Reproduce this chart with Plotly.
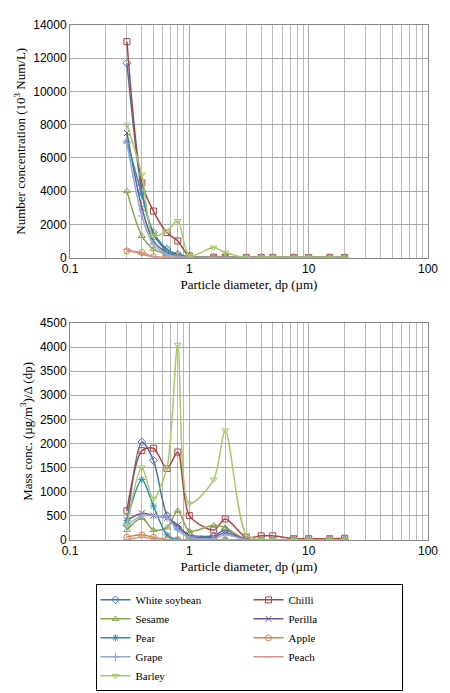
import plotly.graph_objects as go
from plotly.subplots import make_subplots

dp = [0.3, 0.4, 0.5, 0.65, 0.8, 1.0, 1.6, 2.0, 3.0, 4.0, 5.0, 7.5, 10, 15, 20]

names = ["White soybean", "Chilli", "Sesame", "Perilla", "Pear", "Apple", "Grape", "Peach", "Barley"]
colors = ["#4572A7", "#AA4643", "#89A54E", "#71588F", "#2F8FA8", "#DB843D", "#93A9CF", "#D19392", "#A6C96A"]
symbols = ["diamond-open", "square-open", "triangle-up-open", "x-thin-open", "asterisk-open",
           "circle-open", "cross-thin-open", "line-ew-open", "triangle-down-open"]

number = {
    "White soybean": [11700, 4000, 1500, 500, 200, 50, 10, 5, 0, 0, 0, 0, 0, 0, 0],
    "Chilli": [13000, 4500, 2800, 1500, 1000, 100, 20, 10, 0, 0, 0, 0, 0, 0, 0],
    "Sesame": [4000, 1300, 500, 200, 100, 50, 20, 10, 0, 0, 0, 0, 0, 0, 0],
    "Perilla": [7500, 3000, 1000, 300, 100, 30, 0, 0, 0, 0, 0, 0, 0, 0, 0],
    "Pear": [7000, 3800, 1400, 400, 150, 30, 0, 0, 0, 0, 0, 0, 0, 0, 0],
    "Apple": [400, 300, 50, 20, 0, 0, 0, 0, 0, 0, 0, 0, 0, 0, 0],
    "Grape": [6900, 2500, 800, 200, 50, 10, 0, 0, 0, 0, 0, 0, 0, 0, 0],
    "Peach": [500, 200, 50, 0, 0, 0, 0, 0, 0, 0, 0, 0, 0, 0, 0],
    "Barley": [8000, 5000, 1300, 1600, 2200, 100, 600, 300, 0, 0, 0, 0, 0, 0, 0],
}

mass = {
    "White soybean": [300, 2030, 1650, 500, 250, 100, 80, 200, 0, 0, 0, 0, 0, 0, 0],
    "Chilli": [600, 1850, 1900, 1480, 1820, 500, 200, 430, 50, 80, 80, 20, 20, 20, 30],
    "Sesame": [200, 450, 200, 250, 600, 180, 300, 250, 0, 0, 0, 0, 0, 0, 0],
    "Perilla": [400, 550, 500, 450, 300, 80, 50, 150, 0, 0, 0, 0, 0, 0, 0],
    "Pear": [400, 1250, 700, 100, 0, 0, 0, 0, 0, 0, 0, 0, 0, 0, 0],
    "Apple": [50, 100, 50, 0, 0, 0, 0, 0, 0, 0, 0, 0, 0, 0, 0],
    "Grape": [300, 500, 500, 450, 200, 50, 20, 100, 0, 0, 0, 0, 0, 0, 0],
    "Peach": [0, 50, 20, 0, 0, 0, 0, 0, 0, 0, 0, 0, 0, 0, 0],
    "Barley": [300, 1500, 850, 1500, 4050, 750, 1250, 2270, 100, 0, 0, 0, 0, 0, 0],
}

fig = make_subplots(rows=2, cols=1)

for i, n in enumerate(names):
    for row, data in [(1, number), (2, mass)]:
        fig.add_trace(go.Scatter(
            x=dp, y=data[n], name=n, mode="lines+markers",
            line=dict(color=colors[i], width=1.5, shape="spline", smoothing=0.8),
            marker=dict(symbol=symbols[i], size=6, color=colors[i], line=dict(width=1, color=colors[i])),
            showlegend=(row == 1), legendgroup=n,
        ), row=row, col=1)

font = dict(family="Liberation Serif", size=13, color="black")
axcommon = dict(showline=True, linecolor="#888", mirror=True, gridcolor="#aaa",
                tickfont=dict(family="Liberation Sans", size=12, color="black"))
for r in (1, 2):
    fig.update_xaxes(type="log", range=[-1, 2], tickvals=[0.1, 1, 10, 100],
                     ticktext=["0.1", "1", "10", "100"],
                     minor=dict(showgrid=True, gridcolor="#bbb", dtick="D1"),
                     title=dict(text="Particle diameter, dp (µm)", font=font, standoff=4),
                     row=r, col=1, **axcommon)
fig.update_yaxes(range=[0, 14000], dtick=2000, tickformat="d", domain=[0.62, 1], row=1, col=1,
                 title=dict(text="Number concentration (10<sup>3</sup> Num/L)", font=font, standoff=4), **axcommon)
fig.update_yaxes(range=[0, 4500], dtick=500, tickformat="d", domain=[0.159, 0.513], row=2, col=1,
                 title=dict(text="Mass conc. (µg/m<sup>3</sup>)/Δ (dp)", font=font, standoff=4), **axcommon)

fig.update_layout(
    width=450, height=693, plot_bgcolor="white", paper_bgcolor="white",
    margin=dict(l=62, r=30, t=10, b=10),
    font=font,
    legend=dict(orientation="h", x=0.5, xanchor="center", y=0.086, yanchor="top",
                entrywidth=108, bordercolor="black", borderwidth=1,
                font=dict(family="Liberation Serif", size=11), tracegroupgap=0),
)

fig.write_html("out.html")
